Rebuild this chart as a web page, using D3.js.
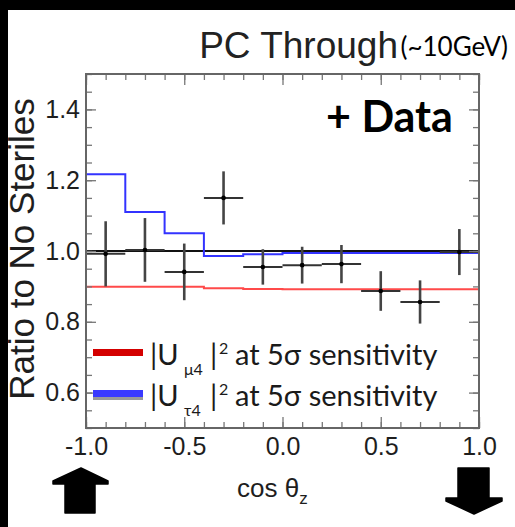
<!DOCTYPE html>
<html>
<head>
<meta charset="utf-8">
<script src="https://cdn.jsdelivr.net/npm/d3@7"></script>
<style>
  html, body { margin: 0; padding: 0; background: #fff; }
  svg { display: block; }
</style>
</head>
<body>
<script>
// cos(zenith) binning: ten bins of width 0.2
const binLow  = [-1.0, -0.8, -0.6, -0.4, -0.2, 0.0, 0.2, 0.4, 0.6, 0.8];
const binHigh = [-0.8, -0.6, -0.4, -0.2, 0.0, 0.2, 0.4, 0.6, 0.8, 1.0];

// Observed ratio to the no-sterile expectation, with statistical errors
const dataRatio = [0.992, 1.003, 0.941, 1.150, 0.955, 0.960, 0.963, 0.887, 0.856, 0.997];
const dataErr   = [0.092, 0.090, 0.080, 0.075, 0.050, 0.052, 0.054, 0.056, 0.061, 0.065];

// Predicted ratios for mixing at the 5 sigma sensitivity
const uMu4Ratio  = [0.899, 0.899, 0.899, 0.895, 0.893, 0.892, 0.892, 0.892, 0.892, 0.892];
const uTau4Ratio = [1.217, 1.110, 1.050, 0.986, 0.991, 0.994, 0.994, 0.994, 0.994, 0.994];

// Axis ticks
const xTickValues = [-1.0, -0.5, 0.0, 0.5, 1.0];
const yTickValues = [0.6, 0.8, 1.0, 1.2, 1.4];
const xMinorTicks = d3.range(-10, 11).map(i => i / 10);
const yMinorTicks = d3.range(10, 31).map(i => i / 20);

const W = 515, H = 527;
const svg = d3.select("body").append("svg").attr("width", W).attr("height", H);

svg.append("rect").attr("width", W).attr("height", H).attr("fill", "#fff");
svg.append("rect").attr("x", 0).attr("y", 0).attr("width", W).attr("height", 10).attr("fill", "#000");
svg.append("rect").attr("x", 0).attr("y", 0).attr("width", 8).attr("height", H).attr("fill", "#000");

const plot = { left: 86, right: 479, top: 74, bottom: 428 };
const x = d3.scaleLinear().domain([-1, 1]).range([plot.left, plot.right]);
const y = d3.scaleLinear().domain([0.5, 1.5]).range([plot.bottom, plot.top]);

const sansFont = "'Liberation Sans', Arial, Helvetica, sans-serif";
const calFont = "Lato, 'Open Sans', sans-serif";

function styleAxis(g) {
  g.select(".domain").remove();
  g.selectAll(".tick line").attr("stroke", "#777").attr("stroke-width", 1.3);
  g.selectAll(".tick text")
    .attr("font-family", sansFont)
    .attr("font-size", 25)
    .attr("fill", "#1e1e1e");
}
const fmt = d => d.toFixed(1);

// reference line at ratio = 1
svg.append("line")
  .attr("x1", x(-1)).attr("x2", x(1))
  .attr("y1", y(1)).attr("y2", y(1))
  .attr("stroke", "#111").attr("stroke-width", 2);

// step outlines
function stepPoints(vals, startAtOne) {
  const pts = startAtOne ? [[binLow[0], 1.0]] : [];
  vals.forEach((v, i) => { pts.push([binLow[i], v]); pts.push([binHigh[i], v]); });
  return pts;
}
const line = d3.line().x(d => x(d[0])).y(d => y(d[1]));

svg.append("path")
  .attr("d", line(stepPoints(uMu4Ratio, false)))
  .attr("fill", "none").attr("stroke", "#ff4a4a").attr("stroke-width", 2);

svg.append("path")
  .attr("d", line(stepPoints(uTau4Ratio, true)))
  .attr("fill", "none").attr("stroke", "#3333ff").attr("stroke-width", 2);

// data points with error crosses
const pts = svg.append("g").selectAll("g")
  .data(dataRatio.map((v, i) => ({ lo: binLow[i], hi: binHigh[i], v, e: dataErr[i] })))
  .join("g");
pts.append("line")
  .attr("x1", d => x(d.lo)).attr("x2", d => x(d.hi))
  .attr("y1", d => y(d.v)).attr("y2", d => y(d.v))
  .attr("stroke", "#333").attr("stroke-width", 2);
pts.append("line")
  .attr("x1", d => x((d.lo + d.hi) / 2)).attr("x2", d => x((d.lo + d.hi) / 2))
  .attr("y1", d => y(d.v - d.e)).attr("y2", d => y(d.v + d.e))
  .attr("stroke", "#444").attr("stroke-width", 2.6);
pts.append("circle")
  .attr("cx", d => x((d.lo + d.hi) / 2)).attr("cy", d => y(d.v))
  .attr("r", 2.3).attr("fill", "#000");

// axes (ticks drawn inward on all four sides)
svg.append("g").attr("transform", `translate(0,${plot.bottom})`)
  .call(d3.axisBottom(x).tickValues(xMinorTicks).tickSize(-6).tickFormat(""))
  .call(styleAxis);
svg.append("g").attr("transform", `translate(0,${plot.bottom})`)
  .call(d3.axisBottom(x).tickValues(xTickValues).tickSize(-11).tickPadding(9).tickFormat(fmt))
  .call(styleAxis);
svg.append("g").attr("transform", `translate(0,${plot.top})`)
  .call(d3.axisTop(x).tickValues(xMinorTicks).tickSize(-6).tickFormat(""))
  .call(styleAxis);
svg.append("g").attr("transform", `translate(0,${plot.top})`)
  .call(d3.axisTop(x).tickValues(xTickValues).tickSize(-11).tickFormat(""))
  .call(styleAxis);

svg.append("g").attr("transform", `translate(${plot.left},0)`)
  .call(d3.axisLeft(y).tickValues(yMinorTicks).tickSize(-6).tickFormat(""))
  .call(styleAxis);
svg.append("g").attr("transform", `translate(${plot.left},0)`)
  .call(d3.axisLeft(y).tickValues(yTickValues).tickSize(-10).tickPadding(6).tickFormat(fmt))
  .call(styleAxis);
svg.append("g").attr("transform", `translate(${plot.right},0)`)
  .call(d3.axisRight(y).tickValues(yMinorTicks).tickSize(-6).tickFormat(""))
  .call(styleAxis);
svg.append("g").attr("transform", `translate(${plot.right},0)`)
  .call(d3.axisRight(y).tickValues(yTickValues).tickSize(-10).tickFormat(""))
  .call(styleAxis);

svg.append("rect")
  .attr("x", plot.left).attr("y", plot.top)
  .attr("width", plot.right - plot.left).attr("height", plot.bottom - plot.top)
  .attr("fill", "none").attr("stroke", "#666").attr("stroke-width", 2);

// titles
svg.append("text")
  .attr("x", 398).attr("y", 58).attr("text-anchor", "end")
  .attr("font-family", sansFont).attr("font-size", 37).attr("fill", "#222")
  .text("PC Through");
svg.append("text")
  .attr("x", 508).attr("y", 56).attr("text-anchor", "end")
  .attr("font-family", calFont).attr("font-size", 26).attr("fill", "#000")
  .text("(~10GeV)");
svg.append("text")
  .attr("x", 326).attr("y", 132)
  .attr("font-family", calFont).attr("font-weight", 700).attr("font-size", 43).attr("fill", "#000")
  .text("+ Data");

// axis titles
svg.append("text")
  .attr("transform", "translate(34,249) rotate(-90)")
  .attr("text-anchor", "middle")
  .attr("font-family", sansFont).attr("font-size", 35).attr("fill", "#1e1e1e")
  .text("Ratio to No Steriles");

const xt = svg.append("text")
  .attr("x", 237).attr("y", 497)
  .attr("font-family", sansFont).attr("font-size", 26).attr("fill", "#1e1e1e");
xt.append("tspan").text("cos θ");
xt.append("tspan").attr("font-size", 17).attr("dy", 7).text("z");

// legend
const legend = [
  { color: "#d40000", sub: "μ4", base: 365, mid: 353 },
  { color: "#3a3aff", sub: "τ4", base: 406, mid: 394 }
];
legend.forEach(l => {
  if (l.sub === "τ4") {
    svg.append("rect").attr("x", 93).attr("y", l.mid).attr("width", 50).attr("height", 6).attr("fill", "#9a9a9a");
  }
  svg.append("rect").attr("x", 93).attr("y", l.mid - 4).attr("width", 50).attr("height", 7).attr("fill", l.color);
  const g = svg.append("g").attr("font-family", calFont).attr("fill", "#1a1a1a");
  g.append("text").attr("x", 150).attr("y", l.base).attr("font-size", 29).text("|U");
  g.append("text").attr("x", 184).attr("y", l.base + 10).attr("font-size", 16).text(l.sub);
  g.append("text").attr("x", 210).attr("y", l.base).attr("font-size", 29).text("|");
  g.append("text").attr("x", 219).attr("y", l.base - 11).attr("font-size", 16).text("2");
  g.append("text").attr("x", 235).attr("y", l.base).attr("font-size", 29).text("at 5σ sensitivity");
});

// direction arrows under the axis ends
svg.append("path")
  .attr("d", "M81,468 L108,481 L108,484 L95,484 L95,513 L65,513 L65,484 L53,484 L53,481 Z")
  .attr("fill", "#000").attr("stroke", "#000").attr("stroke-width", 1.5).attr("stroke-linejoin", "round");
svg.append("path")
  .attr("d", "M458,468 L489,468 L489,498 L502,498 L502,501 L474,514 L446,501 L446,498 L458,498 Z")
  .attr("fill", "#000").attr("stroke", "#000").attr("stroke-width", 1.5).attr("stroke-linejoin", "round");
</script>
</body>
</html>
